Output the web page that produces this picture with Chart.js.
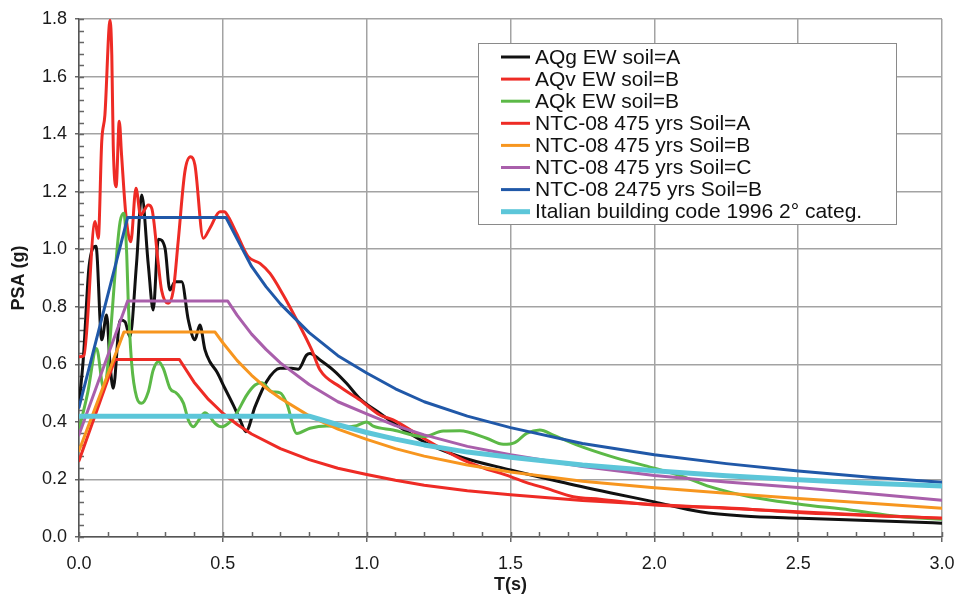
<!DOCTYPE html>
<html lang="en">
<head>
<meta charset="utf-8">
<script src="https://cdn.jsdelivr.net/npm/chart.js@4.4.1/dist/chart.umd.min.js"></script>
<style>
  html, body { margin: 0; padding: 0; background: #fff; }
  #wrap { width: 957px; height: 596px; }
</style>
</head>
<body>
<div id="wrap"><canvas id="chart" width="957" height="596"></canvas></div>
<script>
// period T (s) and spectral acceleration PSA (g) for each spectrum
const aqgT = [0, 0.015, 0.035, 0.059, 0.079, 0.096, 0.108, 0.119, 0.143, 0.16, 0.177, 0.2, 0.218, 0.241, 0.258, 0.276, 0.299, 0.316, 0.334, 0.357, 0.38, 0.403, 0.42, 0.438, 0.455, 0.479, 0.507, 0.536, 0.56, 0.58, 0.612, 0.652, 0.699, 0.739, 0.762, 0.791, 0.803, 0.838, 0.884, 0.93, 0.977, 1.046, 1.092, 1.208, 1.324, 1.5, 1.672, 1.846, 2.0, 2.16, 2.31, 2.51, 2.74, 3.0];
const aqgPsa = [0.46, 0.62, 0.94, 1.01, 0.685, 0.771, 0.6, 0.517, 0.754, 0.748, 0.696, 0.95, 1.188, 0.945, 0.789, 1.035, 1.004, 0.858, 0.887, 0.887, 0.754, 0.685, 0.737, 0.65, 0.609, 0.574, 0.517, 0.459, 0.407, 0.366, 0.453, 0.54, 0.586, 0.586, 0.583, 0.632, 0.638, 0.615, 0.58, 0.534, 0.48, 0.43, 0.397, 0.326, 0.279, 0.233, 0.192, 0.154, 0.122, 0.088, 0.073, 0.065, 0.057, 0.048];

const aqvT = [0, 0.017, 0.056, 0.067, 0.079, 0.09, 0.108, 0.114, 0.119, 0.129, 0.14, 0.148, 0.163, 0.18, 0.198, 0.214, 0.241, 0.253, 0.276, 0.287, 0.31, 0.328, 0.345, 0.368, 0.388, 0.403, 0.432, 0.455, 0.49, 0.505, 0.519, 0.548, 0.588, 0.629, 0.664, 0.71, 0.757, 0.809, 0.838, 0.907, 0.977, 1.046, 1.092, 1.208, 1.324, 1.394, 1.5, 1.556, 1.625, 1.718, 1.811, 2.0, 2.274, 2.5, 3.0];
const aqvPsa = [0.626, 0.63, 1.096, 1.038, 1.374, 1.466, 1.796, 1.675, 1.362, 1.217, 1.445, 1.327, 1.119, 1.026, 1.212, 1.119, 1.154, 1.142, 0.945, 0.858, 0.812, 0.858, 1.03, 1.269, 1.321, 1.293, 1.038, 1.073, 1.13, 1.13, 1.113, 1.055, 0.974, 0.951, 0.916, 0.841, 0.754, 0.65, 0.58, 0.522, 0.476, 0.424, 0.407, 0.337, 0.273, 0.244, 0.21, 0.189, 0.169, 0.14, 0.131, 0.111, 0.1, 0.085, 0.065];

const aqkT = [0, 0.03, 0.061, 0.085, 0.143, 0.156, 0.166, 0.171, 0.183, 0.2, 0.218, 0.241, 0.258, 0.276, 0.293, 0.316, 0.34, 0.363, 0.38, 0.397, 0.42, 0.438, 0.455, 0.473, 0.496, 0.525, 0.548, 0.583, 0.612, 0.635, 0.67, 0.699, 0.722, 0.757, 0.803, 0.861, 0.93, 0.965, 1.0, 1.023, 1.092, 1.197, 1.266, 1.324, 1.417, 1.475, 1.515, 1.556, 1.602, 1.649, 1.73, 1.846, 2.0, 2.1, 2.193, 2.332, 2.5, 2.68, 2.854, 3.0];
const aqkPsa = [0.372, 0.5, 0.655, 0.52, 1.096, 1.125, 0.98, 0.823, 0.604, 0.487, 0.465, 0.505, 0.58, 0.609, 0.586, 0.517, 0.499, 0.465, 0.407, 0.383, 0.412, 0.432, 0.418, 0.395, 0.383, 0.4, 0.43, 0.493, 0.528, 0.536, 0.505, 0.501, 0.465, 0.36, 0.378, 0.386, 0.383, 0.387, 0.4, 0.385, 0.372, 0.349, 0.368, 0.369, 0.343, 0.322, 0.328, 0.36, 0.372, 0.354, 0.32, 0.281, 0.239, 0.21, 0.175, 0.14, 0.115, 0.094, 0.071, 0.062];

const ntcAT = [0, 0.125, 0.349, 0.4, 0.45, 0.5, 0.55, 0.6, 0.7, 0.8, 0.9, 1.0, 1.1, 1.2, 1.35, 1.5, 1.75, 2.0, 2.25, 2.5, 2.75, 3.0];
const ntcAPsa = [0.265, 0.617, 0.617, 0.538, 0.478, 0.43, 0.391, 0.358, 0.307, 0.269, 0.239, 0.217, 0.197, 0.18, 0.161, 0.147, 0.127, 0.113, 0.1, 0.088, 0.076, 0.065];

const ntcBT = [0, 0.156, 0.473, 0.5, 0.55, 0.6, 0.65, 0.7, 0.8, 0.9, 1.0, 1.1, 1.2, 1.35, 1.5, 1.75, 2.0, 2.25, 2.5, 2.75, 3.0];
const ntcBPsa = [0.30, 0.712, 0.712, 0.675, 0.613, 0.562, 0.518, 0.482, 0.421, 0.375, 0.339, 0.307, 0.281, 0.25, 0.226, 0.194, 0.171, 0.152, 0.134, 0.117, 0.10];

const ntcCT = [0, 0.169, 0.517, 0.55, 0.6, 0.65, 0.7, 0.8, 0.9, 1.0, 1.1, 1.2, 1.35, 1.5, 1.75, 2.0, 2.25, 2.5, 2.75, 3.0];
const ntcCPsa = [0.355, 0.82, 0.82, 0.77, 0.705, 0.652, 0.605, 0.53, 0.47, 0.428, 0.387, 0.355, 0.315, 0.286, 0.245, 0.214, 0.191, 0.172, 0.15, 0.128];

const ntc2475T = [0, 0.169, 0.511, 0.55, 0.6, 0.65, 0.7, 0.8, 0.9, 1.0, 1.1, 1.2, 1.35, 1.5, 1.75, 2.0, 2.25, 2.5, 2.75, 3.0];
const ntc2475Psa = [0.45, 1.11, 1.11, 1.035, 0.94, 0.87, 0.81, 0.71, 0.63, 0.57, 0.515, 0.47, 0.42, 0.38, 0.325, 0.286, 0.255, 0.229, 0.208, 0.19];

const code96T = [0, 0.8, 0.9, 1.0, 1.1, 1.2, 1.35, 1.5, 1.75, 2.0, 2.25, 2.5, 2.75, 3.0];
const code96Psa = [0.42, 0.42, 0.39, 0.363, 0.34, 0.32, 0.295, 0.277, 0.25, 0.23, 0.213, 0.199, 0.187, 0.177];

const seriesLabels = [
  'AQg EW soil=A',
  'AQv EW soil=B',
  'AQk EW soil=B',
  'NTC-08 475 yrs Soil=A',
  'NTC-08 475 yrs Soil=B',
  'NTC-08 475 yrs Soil=C',
  'NTC-08 2475 yrs Soil=B',
  'Italian building code 1996 2\u00b0 categ.'
];

const xTicks = [0, 0.5, 1.0, 1.5, 2.0, 2.5, 3.0];
const yTicks = [0, 0.2, 0.4, 0.6, 0.8, 1.0, 1.2, 1.4, 1.6, 1.8];

const FONT = "'Liberation Sans', Arial, sans-serif";

function pts(t, v) {
  return t.map((x, i) => ({ x: x, y: v[i] }));
}

function series(i, t, v, color, width, smooth) {
  return {
    label: seriesLabels[i],
    data: pts(t, v),
    borderColor: color,
    backgroundColor: color,
    borderWidth: width,
    pointRadius: 0,
    fill: false,
    tension: smooth ? 0.4 : 0,
    cubicInterpolationMode: smooth ? 'monotone' : 'default',
    borderJoinStyle: 'round',
    borderCapStyle: 'round',
    order: 8 - i
  };
}

const datasets = [
  series(0, aqgT, aqgPsa, '#111111', 3, true),
  series(1, aqvT, aqvPsa, '#ee2b25', 3, true),
  series(2, aqkT, aqkPsa, '#5cb947', 3, true),
  series(3, ntcAT, ntcAPsa, '#ee2b25', 3, false),
  series(4, ntcBT, ntcBPsa, '#f7961f', 3, false),
  series(5, ntcCT, ntcCPsa, '#a95fab', 3, false),
  series(6, ntc2475T, ntc2475Psa, '#2058a8', 3, false),
  series(7, code96T, code96Psa, '#5cc6d9', 5, false)
];

// short inward tick marks on both axes
const minorTicks = {
  id: 'minorTicks',
  beforeDatasetsDraw(chart) {
    const { ctx, scales: { x, y } } = chart;
    ctx.save();
    ctx.strokeStyle = '#666';
    ctx.lineWidth = 1.5;
    ctx.beginPath();
    for (let i = 0; i <= 30; i++) {
      const px = Math.round(x.getPixelForValue(i / 10)) + 0.5;
      ctx.moveTo(px, y.bottom);
      ctx.lineTo(px, y.bottom - 5);
    }
    for (let i = 0; i <= 45; i++) {
      const py = Math.round(y.getPixelForValue(i * 0.04)) + 0.5;
      ctx.moveTo(x.left, py);
      ctx.lineTo(x.left + 5, py);
    }
    ctx.stroke();
    ctx.restore();
  }
};

// boxed legend inside the plot area, upper right
const boxLegend = {
  id: 'boxLegend',
  afterDatasetsDraw(chart) {
    const { ctx } = chart;
    const left = 478, top = 43, w = 418, h = 181;
    ctx.save();
    ctx.fillStyle = '#fff';
    ctx.fillRect(left, top, w, h);
    ctx.strokeStyle = '#8a8a8a';
    ctx.lineWidth = 1;
    ctx.strokeRect(left + 0.5, top + 0.5, w, h);
    ctx.font = '21px ' + FONT;
    ctx.textBaseline = 'middle';
    ctx.fillStyle = '#111';
    chart.data.datasets.forEach((ds, i) => {
      const cy = top + 14 + i * 22.1;
      ctx.strokeStyle = ds.borderColor;
      ctx.lineWidth = ds.borderWidth;
      ctx.lineCap = 'butt';
      ctx.beginPath();
      ctx.moveTo(501, cy);
      ctx.lineTo(530, cy);
      ctx.stroke();
      ctx.fillText(ds.label, 535, cy + 1);
    });
    ctx.restore();
  }
};

new Chart(document.getElementById('chart'), {
  type: 'line',
  data: { datasets: datasets },
  plugins: [minorTicks, boxLegend],
  options: {
    responsive: false,
    animation: false,
    events: [],
    layout: { padding: { top: 19, right: 15, bottom: 0, left: 0 } },
    plugins: {
      legend: { display: false },
      tooltip: { enabled: false }
    },
    scales: {
      x: {
        type: 'linear',
        min: 0,
        max: 3,
        afterFit(s) { s.height = 59; s.paddingLeft = 0; s.paddingRight = 0; },
        afterBuildTicks(s) { s.ticks = xTicks.map(v => ({ value: v })); },
        ticks: {
          autoSkip: false,
          padding: 11,
          color: '#1a1a1a',
          font: { family: FONT, size: 18 },
          callback: v => v.toFixed(1)
        },
        grid: { color: '#a3a3a3', lineWidth: 1.5, tickLength: 5, tickColor: '#666' },
        border: { color: '#555', width: 1.5 },
        title: {
          display: true,
          text: 'T(s)',
          color: '#1a1a1a',
          font: { family: FONT, size: 18, weight: 'bold' },
          padding: { top: 0, bottom: 0 }
        }
      },
      y: {
        type: 'linear',
        min: 0,
        max: 1.8,
        afterFit(s) { s.width = 79; s.paddingTop = 0; s.paddingBottom = 0; },
        afterBuildTicks(s) { s.ticks = yTicks.map(v => ({ value: v })); },
        ticks: {
          autoSkip: false,
          padding: 8,
          color: '#1a1a1a',
          font: { family: FONT, size: 18 },
          callback: v => v.toFixed(1)
        },
        grid: { color: '#a3a3a3', lineWidth: 1.5, tickLength: 4, tickColor: '#666' },
        border: { color: '#555', width: 1.5 },
        title: {
          display: true,
          text: 'PSA (g)',
          color: '#1a1a1a',
          font: { family: FONT, size: 18, weight: 'bold' },
          padding: { top: 8, bottom: 0 }
        }
      }
    }
  }
});
</script>
</body>
</html>
